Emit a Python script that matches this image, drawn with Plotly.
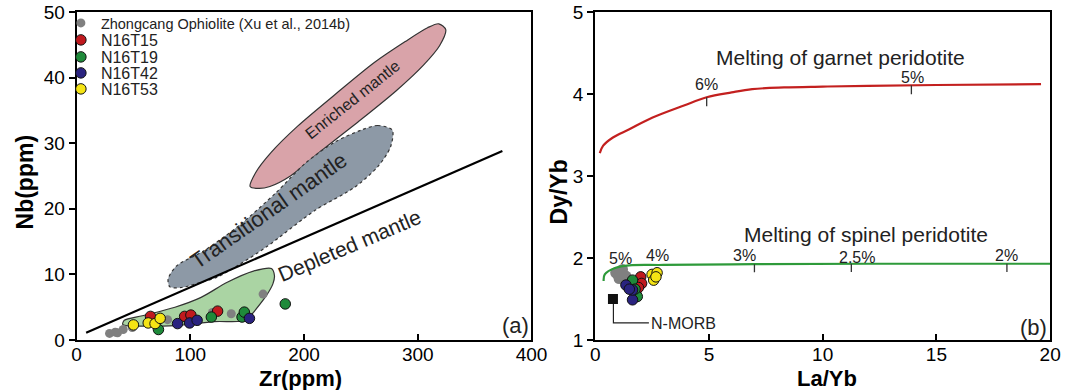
import numpy as np
import plotly.graph_objects as go

# ---------------- Panel (a): Zr vs Nb ----------------
zc_zr = [29, 34, 36, 41, 49, 80, 119.5, 136, 164]
zc_nb = [1.0, 1.2, 1.1, 1.6, 1.9, 3.1, 4.2, 4.0, 7.0]
t15_zr = [65, 95, 100.5, 124]
t15_nb = [3.6, 3.6, 3.8, 4.4]
t19_zr = [72, 118.5, 145.5, 147.5, 183.5]
t19_nb = [1.6, 3.5, 3.5, 4.25, 5.5]
t42_zr = [88.8, 99.4, 106, 152]
t42_nb = [2.5, 2.6, 3.0, 3.3]
t53_zr = [50, 63, 69, 73.5]
t53_nb = [2.3, 2.6, 2.5, 3.3]

# boundary line
line_zr = [8.4, 374.4]
line_nb = [1.1, 28.8]

# fields
enr_zr = [152.6, 157.4, 171.1, 194.4, 227.8, 261.8, 289.0, 308.6, 318.5, 324.6,
          319.3, 305.0, 281.1, 247.2, 212.7, 188.0, 170.0, 160.0, 152.6]
enr_nb = [23.4, 25.5, 28.6, 32.6, 37.5, 42.3, 45.5, 47.6, 48.2, 47.3,
          44.9, 41.9, 38.0, 33.2, 28.5, 25.0, 23.4, 23.1, 23.4]
tra_zr = [277.6, 264.7, 250.3, 227.3, 201.5, 175.6, 144, 112, 88, 80.5, 82, 92.2, 109.5,
          123.9, 144, 167, 210, 244.6, 264.7, 276, 277.6]
tra_nb = [32.0, 32.7, 32.0, 30.2, 27.0, 22.5, 17.6, 13.6, 11.3, 9.3, 8.1, 8.0, 8.8,
          9.6, 11.6, 14.2, 19.8, 23.3, 26.4, 29.4, 32.0]
dep_zr = [40.5, 42, 57.8, 86.5, 109.5, 132.5, 155.5, 171.3, 174, 172.7, 167, 155.5, 149.7,
          121, 86.5, 57.8, 43.4, 40.5]
dep_nb = [2.4, 3.0, 3.7, 5.0, 6.5, 8.8, 10.5, 10.9, 9.8, 8.6, 6.8, 4.2, 3.0,
          2.8, 2.2, 2.1, 2.2, 2.4]

# ---------------- Panel (b): La/Yb vs Dy/Yb ----------------
zc_la = [0.9, 1.05, 1.2, 1.35, 1.0, 1.15]
zc_dy = [1.82, 1.75, 1.86, 1.78, 1.79, 1.8]
t15_la = [2.0, 2.04, 1.78, 1.9]
t15_dy = [1.77, 1.69, 1.58, 1.64]
t19_la = [1.64, 1.85, 1.75]
t19_dy = [1.73, 1.53, 1.62]
t42_la = [1.35, 1.64, 1.64, 1.5]
t42_dy = [1.67, 1.49, 1.61, 1.62]
t53_la = [2.5, 2.72, 2.57, 2.67]
t53_dy = [1.80, 1.82, 1.73, 1.77]

gar_la = [0.2, 0.35, 0.78, 1.5, 2.5, 3.9, 4.9, 6.0, 6.9, 8.3, 10, 12, 15, 19.6]
gar_dy = [3.28, 3.37, 3.47, 3.57, 3.71, 3.86, 3.96, 4.02, 4.06, 4.08, 4.09, 4.10, 4.11, 4.12]
spi_la = [0.37, 0.42, 0.9, 1.5, 3, 7, 12, 20]
spi_dy = [1.72, 1.80, 1.88, 1.91, 1.915, 1.925, 1.93, 1.93]

gar_tick_la = [4.9, 13.9]
gar_lab_la = [4.9, 13.95]
gar_lab_dy = [4.11, 4.20]
gar_lab = ["6%", "5%"]
spi_tick_la = [7.0, 11.26, 18.1]
spi_lab_la = [1.1, 2.72, 6.55, 11.53, 18.09]
spi_lab_dy = [2.0, 2.03, 2.03, 2.01, 2.03]
spi_lab = ["5%", "4%", "3%", "2.5%", "2%"]

nmorb_la = [0.78]
nmorb_dy = [1.5]
nmorb_lead_la = [0.8, 0.8, 2.36]
nmorb_lead_dy = [1.5, 1.21, 1.21]

# ---------------- styling ----------------
FONT = "Arial, Liberation Sans, sans-serif"
C_GREY = "#808080"
C_RED = "#c0191e"
C_GREEN = "#1f8a3a"
C_BLUE = "#2a237f"
C_YEL = "#f5e414"

fig = go.Figure()

# fields in (a)
fig.add_trace(go.Scatter(x=enr_zr, y=enr_nb, mode="lines", fill="toself", fillcolor="#d9a3a9",
                         line=dict(color="#333333", width=1.2, shape="spline", smoothing=0.8),
                         showlegend=False, hoverinfo="skip", xaxis="x", yaxis="y"))
fig.add_trace(go.Scatter(x=tra_zr, y=tra_nb, mode="lines", fill="toself", fillcolor="#8d99a6",
                         line=dict(color="#333333", width=1.2, dash="dot", shape="spline", smoothing=0.8),
                         showlegend=False, hoverinfo="skip", xaxis="x", yaxis="y"))
fig.add_trace(go.Scatter(x=dep_zr, y=dep_nb, mode="lines", fill="toself", fillcolor="#aad4a3",
                         line=dict(color="#333333", width=1.2, shape="spline", smoothing=0.8),
                         showlegend=False, hoverinfo="skip", xaxis="x", yaxis="y"))
fig.add_trace(go.Scatter(x=line_zr, y=line_nb, mode="lines", line=dict(color="black", width=2.2),
                         showlegend=False, hoverinfo="skip", xaxis="x", yaxis="y"))

series = [
    ("Zhongcang Ophiolite (Xu et al., 2014b)", C_GREY, zc_zr, zc_nb, zc_la, zc_dy, True),
    ("N16T15", C_RED, t15_zr, t15_nb, t15_la, t15_dy, False),
    ("N16T19", C_GREEN, t19_zr, t19_nb, t19_la, t19_dy, False),
    ("N16T42", C_BLUE, t42_zr, t42_nb, t42_la, t42_dy, False),
    ("N16T53", C_YEL, t53_zr, t53_nb, t53_la, t53_dy, False),
]
legend_ids = ["legend", "legend2", "legend3", "legend4", "legend5"]
legend_py = [23, 40, 57, 73, 89]  # pixel rows of legend entries

for i, (name, col, xa, ya, xb, yb, small) in enumerate(series):
    mk = dict(color=col, size=9 if small else 10.5,
              line=dict(color=col if small else "#111111", width=0 if small else 1))
    fig.add_trace(go.Scatter(x=xa, y=ya, mode="markers", marker=mk, name=name,
                             legendgroup=str(i), legend=legend_ids[i], xaxis="x", yaxis="y"))
    mk2 = dict(mk)
    if small:
        mk2 = dict(color=col, size=11, line=dict(color=col, width=0))
    fig.add_trace(go.Scatter(x=xb, y=yb, mode="markers", marker=mk2, name=name,
                             legendgroup=str(i), showlegend=False, xaxis="x2", yaxis="y2"))

# curves in (b)
fig.add_trace(go.Scatter(x=gar_la, y=gar_dy, mode="lines", line=dict(color="#c3201f", width=2.2, shape="spline"),
                         showlegend=False, hoverinfo="skip", xaxis="x2", yaxis="y2"))
fig.add_trace(go.Scatter(x=spi_la, y=spi_dy, mode="lines", line=dict(color="#2e9a3a", width=2.2, shape="spline"),
                         showlegend=False, hoverinfo="skip", xaxis="x2", yaxis="y2"))

def tick_segments(xs, cx, cy, length):
    tx, ty = [], []
    for t in xs:
        yv = float(np.interp(t, cx, cy))
        tx += [t, t, None]
        ty += [yv, yv - length, None]
    return tx, ty

gx, gy = tick_segments(gar_tick_la, gar_la, gar_dy, 0.11)
sx, sy = tick_segments(spi_tick_la, spi_la, spi_dy, 0.1)
fig.add_trace(go.Scatter(x=gx + sx, y=gy + sy, mode="lines", line=dict(color="#333333", width=1.3),
                         showlegend=False, hoverinfo="skip", xaxis="x2", yaxis="y2"))

# N-MORB
fig.add_trace(go.Scatter(x=nmorb_lead_la, y=nmorb_lead_dy, mode="lines", line=dict(color="#222222", width=1.2),
                         showlegend=False, hoverinfo="skip", xaxis="x2", yaxis="y2"))
fig.add_trace(go.Scatter(x=nmorb_la, y=nmorb_dy, mode="markers",
                         marker=dict(symbol="square", color="#111111", size=10),
                         showlegend=False, hoverinfo="skip", xaxis="x2", yaxis="y2"))

ann = []
def A(text, x, y, xref, yref, size, angle=0, xanchor="center", yanchor="middle", color="#222222"):
    ann.append(dict(text=text, x=x, y=y, xref=xref, yref=yref, showarrow=False, textangle=angle,
                    font=dict(family=FONT, size=size, color=color), xanchor=xanchor, yanchor=yanchor))

A("Enriched mantle", 243, 36.6, "x", "y", 16, -38.5)
A("Transitional mantle", 169, 19.8, "x", "y", 22, -35)
A("Depleted mantle", 240, 14.4, "x", "y", 21, -23)
A("(a)", 399.5, 2.2, "x", "y", 22, 0, "right", "middle")
A("(b)", 19.95, 1.15, "x2", "y2", 22, 0, "right", "middle")
A("Melting of garnet peridotite", 10.8, 4.44, "x2", "y2", 21)
A("Melting of spinel peridotite", 11.9, 2.29, "x2", "y2", 21)
for t, yv, lab in zip(gar_lab_la, gar_lab_dy, gar_lab):
    A(lab, t, yv, "x2", "y2", 16)
for t, yv, lab in zip(spi_lab_la, spi_lab_dy, spi_lab):
    A(lab, t, yv, "x2", "y2", 16)
A("N-MORB", 2.36, 1.205, "x2", "y2", 16, 0, "left", "middle")

# axis titles
A("<b>Zr(ppm)</b>", 196.6, -0.116, "x", "paper", 22, 0, "center", "middle", "black")
A("<b>La/Yb</b>", 10.2, -0.116, "x2", "paper", 22, 0, "center", "middle", "black")
A("<b>Nb(ppm)</b>", 0.0186, 0.482, "paper", "paper", 23, -90, "center", "middle", "black")
A("<b>Dy/Yb</b>", 0.527, 0.451, "paper", "paper", 23, -90, "center", "middle", "black")

axis_common = dict(showline=True, linecolor="black", linewidth=2, mirror=True, showgrid=False,
                   zeroline=False, tickcolor="black", ticklen=6, tickwidth=1.5,
                   tickfont=dict(family=FONT, size=19, color="black"))

legends = {}
for i, lid in enumerate(legend_ids):
    legends[lid] = dict(x=(81 - 24) / 1073, y=(340 - legend_py[i]) / 328, xanchor="left", yanchor="middle",
                        bgcolor="rgba(0,0,0,0)", itemwidth=30,
                        font=dict(family=FONT, size=14.5 if i == 0 else 16, color="#222222"))

fig.update_layout(
    width=1073, height=390,
    margin=dict(l=0, r=0, t=12, b=50),
    paper_bgcolor="white", plot_bgcolor="white",
    font=dict(family=FONT, color="black"),
    showlegend=True,
    xaxis=dict(domain=[73 / 1073, 537 / 1073], range=[0, 400], tickvals=[0, 100, 200, 300, 400],
               ticks="inside", anchor="y", ticklabelstandoff=-4, **axis_common),
    yaxis=dict(domain=[0, 1], range=[0, 50], tickvals=[0, 10, 20, 30, 40, 50], ticks="outside", anchor="x",
               **axis_common),
    xaxis2=dict(domain=[602 / 1073, 1066 / 1073], range=[0, 20], tickvals=[0, 5, 10, 15, 20],
                ticks="inside", anchor="y2", ticklabelstandoff=-4, **axis_common),
    yaxis2=dict(domain=[0, 1], range=[1, 5], tickvals=[1, 2, 3, 4, 5], ticks="outside", anchor="x2",
                **axis_common),
    annotations=ann,
    **legends,
)

fig.write_html("out.html")
